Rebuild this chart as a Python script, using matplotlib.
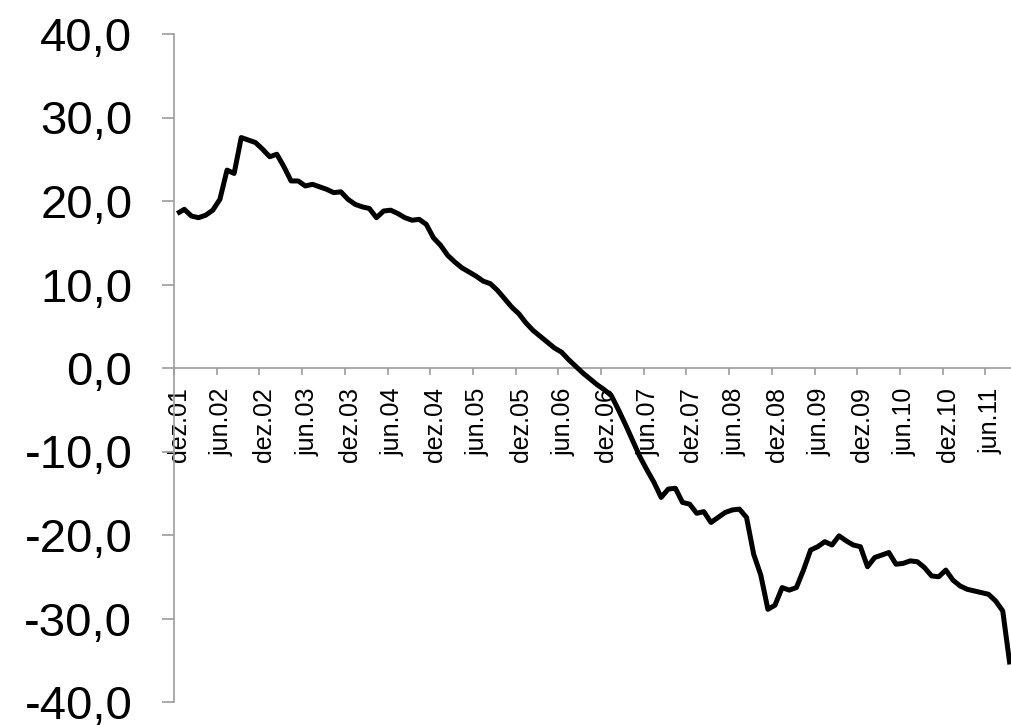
import matplotlib
matplotlib.use("Agg")
import matplotlib.pyplot as plt
import numpy as np

plt.rcParams["font.family"] = ["Liberation Sans", "DejaVu Sans"]

# monthly values, dez.01 .. set.11
values = [
    18.5, 19.0, 18.2, 18.0, 18.3, 18.9, 20.2, 23.7, 23.3, 27.6,
    27.3, 27.0, 26.2, 25.3, 25.6, 24.1, 22.4, 22.4, 21.8, 22.0,
    21.7, 21.4, 21.0, 21.1, 20.2, 19.6, 19.3, 19.1, 18.0, 18.8,
    18.9, 18.5, 18.0, 17.7, 17.8, 17.2, 15.6, 14.7, 13.5, 12.7,
    12.0, 11.5, 11.0, 10.4, 10.1, 9.3, 8.3, 7.3, 6.5, 5.4,
    4.5, 3.8, 3.1, 2.4, 1.9, 1.0, 0.2, -0.6, -1.3, -2.0,
    -2.6, -3.3, -5.0, -6.8, -8.7, -10.6, -12.2, -13.7, -15.5, -14.5,
    -14.4, -16.1, -16.3, -17.4, -17.2, -18.5, -17.9, -17.3, -17.0, -16.9,
    -17.9, -22.3, -24.8, -28.9, -28.4, -26.3, -26.6, -26.3, -24.2, -21.8,
    -21.4, -20.8, -21.2, -20.1, -20.7, -21.2, -21.4, -23.8, -22.7, -22.4,
    -22.1, -23.5, -23.4, -23.1, -23.2, -23.9, -24.9, -25.0, -24.2, -25.4,
    -26.1, -26.5, -26.7, -26.9, -27.1, -27.9, -29.1, -35.5,
]

x_labels = [
    "dez.01", "jun.02", "dez.02", "jun.03", "dez.03", "jun.04", "dez.04",
    "jun.05", "dez.05", "jun.06", "dez.06", "jun.07", "dez.07", "jun.08",
    "dez.08", "jun.09", "dez.09", "jun.10", "dez.10", "jun.11",
]
label_step = 6

y_ticks = [-40, -30, -20, -10, 0, 10, 20, 30, 40]
y_labels = ["-40,0", "-30,0", "-20,0", "-10,0", "0,0", "10,0", "20,0", "30,0", "40,0"]

W, H = 1012, 725
fig = plt.figure(figsize=(W / 100, H / 100), dpi=100)
ax = fig.add_axes([174 / W, (H - 702) / H, (W - 174) / W, (702 - 34) / H])

x = np.arange(len(values))
ax.plot(x, values, color="black", lw=3.6, solid_joinstyle="round", solid_capstyle="butt",
        clip_on=False, zorder=3)

grey = "#9c9c9c"
ax.set_ylim(-40, 40)
ax.set_xlim(-0.45, 117.3)

for side in ["top", "right"]:
    ax.spines[side].set_visible(False)
ax.spines["left"].set_color(grey)
ax.spines["left"].set_linewidth(1.2)
ax.spines["bottom"].set_position(("data", 0))
ax.spines["bottom"].set_color(grey)
ax.spines["bottom"].set_linewidth(1.2)

ax.set_yticks(y_ticks)
ax.set_yticklabels(y_labels, fontsize=34)
ax.tick_params(axis="y", length=9, width=1.2, color=grey, pad=21)

label_pos = np.arange(len(x_labels)) * label_step
ax.set_xticks(label_pos + 0.25)
ax.set_xticklabels(x_labels, rotation=90, fontsize=18)
ax.tick_params(axis="x", which="major", length=0, pad=14)
ax.set_xticks(label_pos - 0.45, minor=True)
ax.tick_params(axis="x", which="minor", length=5, width=1.2, color=grey, direction="out")

fig.savefig("out.png", dpi=100, facecolor="white")
